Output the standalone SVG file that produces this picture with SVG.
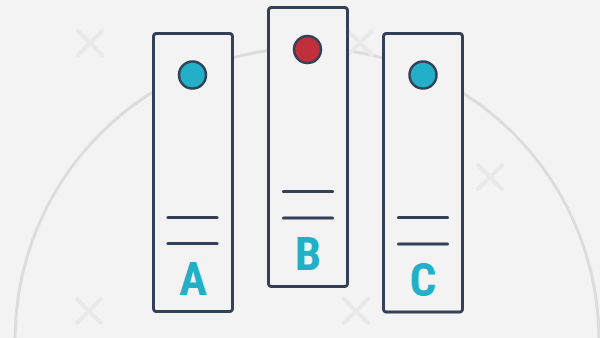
<svg xmlns="http://www.w3.org/2000/svg" width="600" height="338" viewBox="0 0 600 338">
<style>
.bg{fill:#f3f3f3}
.arc{fill:none;stroke:#dcdcdc;stroke-width:3}
.x{stroke:#e9e9e9;stroke-width:4;stroke-linecap:round}
.box{fill:#f3f3f3;stroke:#344058;stroke-width:3}
.led{stroke:#344058;stroke-width:2.5}
.teal{fill:#22b0c8}
.red{fill:#c0303c}
.ln{stroke:#344058;stroke-width:3;stroke-linecap:round}
.lbl{font-family:"Liberation Sans Narrow","Roboto Condensed","DejaVu Sans Condensed",sans-serif;font-weight:bold;font-size:47px;fill:#22b0c8;text-anchor:middle}
</style>
<defs>
<g id="cross"><line class="x" x1="-12" y1="-12" x2="12" y2="12"/><line class="x" x1="12" y1="-12" x2="-12" y2="12"/></g>
</defs>
<rect class="bg" x="0" y="0" width="600" height="338"/>
<g id="background">
<circle class="arc" cx="307" cy="340" r="292"/>
<use href="#cross" x="90" y="43"/>
<use href="#cross" x="360" y="43"/>
<use href="#cross" x="490" y="177"/>
<use href="#cross" x="89" y="311"/>
<use href="#cross" x="356" y="311"/>
</g>
<g id="connectors"></g>
<g id="server-a">
<rect class="box" x="153.5" y="33.5" width="79" height="278" rx="3"/>
<circle class="led teal" cx="192.5" cy="75" r="13.5"/>
<line class="ln" x1="168" y1="217.5" x2="217" y2="217.5"/>
<line class="ln" x1="168" y1="243.5" x2="217" y2="243.5"/>
<text class="lbl" x="193" y="295">A</text>
</g>
<g id="server-b">
<rect class="box" x="268.5" y="7.5" width="79" height="279" rx="3"/>
<circle class="led red" cx="307.5" cy="49.5" r="13.5"/>
<line class="ln" x1="283.5" y1="191.5" x2="332.5" y2="191.5"/>
<line class="ln" x1="283.5" y1="218" x2="332.5" y2="218"/>
<text class="lbl" x="308" y="270">B</text>
</g>
<g id="server-c">
<rect class="box" x="383.5" y="33.5" width="79" height="278.5" rx="3"/>
<circle class="led teal" cx="423" cy="75" r="13.5"/>
<line class="ln" x1="398.5" y1="217.5" x2="447.5" y2="217.5"/>
<line class="ln" x1="398.5" y1="244" x2="447.5" y2="244"/>
<text class="lbl" x="423" y="295.5">C</text>
</g>
</svg>
